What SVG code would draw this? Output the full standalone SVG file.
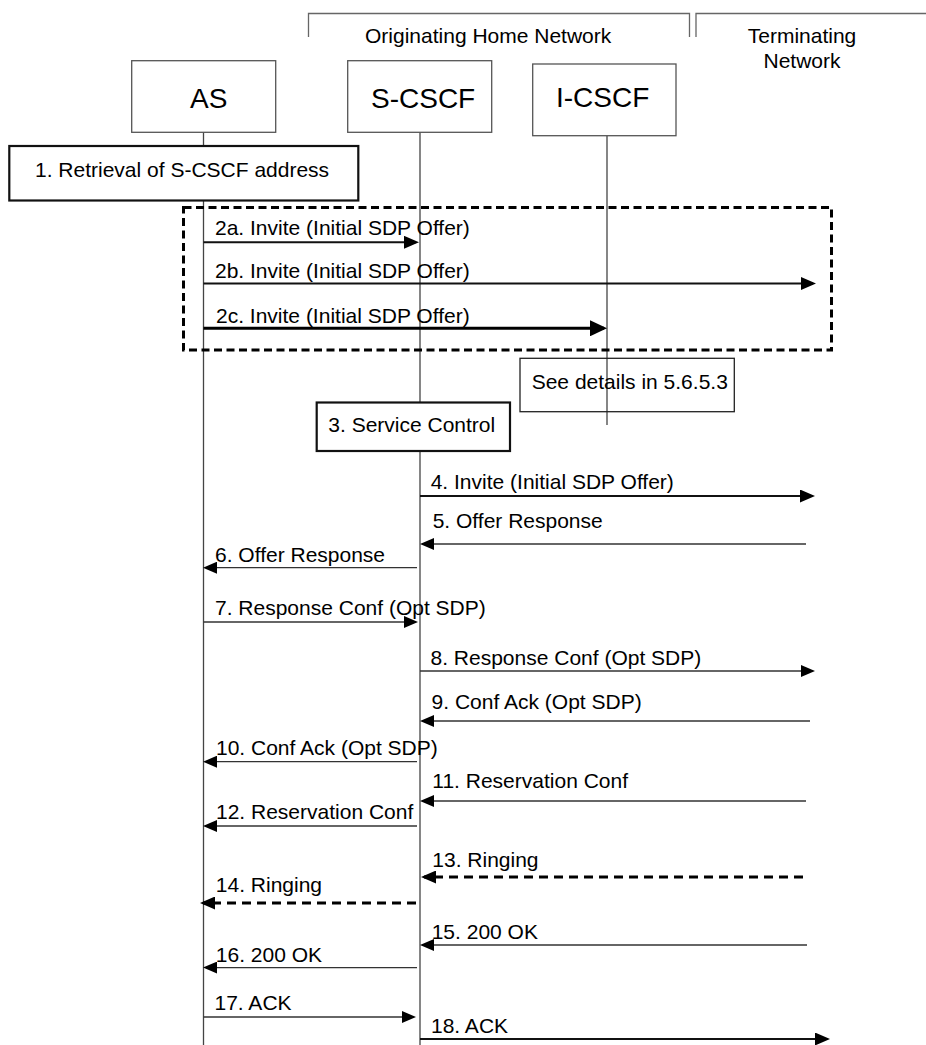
<svg xmlns="http://www.w3.org/2000/svg" width="926" height="1045" viewBox="0 0 926 1045">
<style>
text{font-family:"Liberation Sans",Arial,sans-serif;font-size:21px;fill:#000}
.node{font-size:28px}
.box{fill:#fff;stroke:#555;stroke-width:1.3}
.tbox{fill:#fff;stroke:#111;stroke-width:2.2}
.life{stroke:#444;stroke-width:1.3;fill:none}
.br{stroke:#666;stroke-width:1.3;fill:none}
.m{stroke:#333;stroke-width:1.3;fill:none}
.m2{stroke:#111;stroke-width:2;fill:none}
.m3{stroke:#000;stroke-width:3;fill:none}
.d{stroke:#000;stroke-width:3;fill:none;stroke-dasharray:9 6}
</style>
<defs>
<marker id="a1" markerUnits="userSpaceOnUse" markerWidth="14" markerHeight="12" refX="11" refY="6" orient="auto"><path d="M0,0 L14,6 L0,12 z" fill="#000"/></marker>
<marker id="a2" markerUnits="userSpaceOnUse" markerWidth="15" markerHeight="13" refX="12" refY="6.5" orient="auto"><path d="M0,0 L15,6.5 L0,13 z" fill="#000"/></marker>
<marker id="a3" markerUnits="userSpaceOnUse" markerWidth="17" markerHeight="16" refX="14" refY="8" orient="auto"><path d="M0,0 L17,8 L0,16 z" fill="#000"/></marker>
</defs>

<g id="header">
<path class="br" d="M308.5,37 V13.5 H689.5 V37"/>
<path class="br" d="M696,37 V13.5 H926"/>
<text x="365" y="43">Originating Home Network</text>
<text x="802" y="43" text-anchor="middle">Terminating</text>
<text x="802" y="68" text-anchor="middle">Network</text>
</g>

<g id="lifelines">
<path class="life" d="M203.5,132 V146 M203.5,200 V1045"/>
<path class="life" d="M420,132 V1045"/>
<path class="life" d="M607,136 V425"/>
</g>

<g id="node-AS">
<rect class="box" x="131.7" y="60.7" width="144" height="71.6"/>
<text class="node" x="190" y="108">AS</text>
</g>
<g id="node-SCSCF">
<rect class="box" x="347.7" y="60.7" width="144" height="71.6"/>
<text class="node" x="371" y="108">S-CSCF</text>
</g>
<g id="node-ICSCF">
<rect class="box" x="532.7" y="64" width="143.3" height="71.7"/>
<text class="node" x="556" y="107">I-CSCF</text>
</g>

<g id="step1">
<rect class="tbox" x="9.3" y="146" width="349" height="54.5"/>
<text x="35" y="176.5">1. Retrieval of S-CSCF address</text>
</g>

<g id="group2">
<rect x="183.5" y="207.5" width="648" height="142.5" fill="none" stroke="#000" stroke-width="3" stroke-dasharray="8 4.5"/>
</g>

<g id="step3">
<rect class="tbox" x="316.7" y="402.5" width="193.3" height="48.5"/>
<text x="328.3" y="431.7">3. Service Control</text>
</g>

<g id="note">
<rect x="520" y="358.3" width="214.3" height="53.4" fill="none" stroke="#222" stroke-width="1.3"/>
<text x="531.7" y="389.3">See details in 5.6.5.3</text>
</g>

<g id="labels">
<text x="215" y="235">2a. Invite (Initial SDP Offer)</text>
<text x="215" y="278.3">2b. Invite (Initial SDP Offer)</text>
<text x="216" y="323.3">2c. Invite (Initial SDP Offer)</text>
<text x="430.7" y="489.3">4. Invite (Initial SDP Offer)</text>
<text x="432.7" y="528.3">5. Offer Response</text>
<text x="215" y="561.7">6. Offer Response</text>
<text x="215" y="615">7. Response Conf (Opt SDP)</text>
<text x="430.5" y="664.7">8. Response Conf (Opt SDP)</text>
<text x="431.6" y="709">9. Conf Ack (Opt SDP)</text>
<text x="216" y="755">10. Conf Ack (Opt SDP)</text>
<text x="432.3" y="788.3">11. Reservation Conf</text>
<text x="216" y="819.3">12. Reservation Conf</text>
<text x="432.3" y="866.7">13. Ringing</text>
<text x="215.8" y="892">14. Ringing</text>
<text x="431.7" y="938.5">15. 200 OK</text>
<text x="215.8" y="962">16. 200 OK</text>
<text x="214.5" y="1010">17. ACK</text>
<text x="431" y="1033">18. ACK</text>
</g>

<g id="connectors">
<line class="m2" x1="203.5" y1="242.3" x2="416" y2="242.3" marker-end="url(#a2)"/>
<line class="m2" x1="203.5" y1="283.5" x2="813" y2="283.5" marker-end="url(#a2)"/>
<line class="m3" x1="203.5" y1="328.3" x2="604" y2="328.3" marker-end="url(#a3)"/>
<line class="m2" x1="420" y1="496" x2="812" y2="496" marker-end="url(#a2)"/>
<line class="m" x1="806" y1="544" x2="423" y2="544" marker-end="url(#a1)"/>
<line class="m" x1="417" y1="567.7" x2="206" y2="567.7" marker-end="url(#a1)"/>
<line class="m" x1="203.5" y1="622" x2="415" y2="622" marker-end="url(#a1)"/>
<line class="m" x1="420" y1="671" x2="812" y2="671" marker-end="url(#a1)"/>
<line class="m" x1="810" y1="721" x2="423" y2="721" marker-end="url(#a1)"/>
<line class="m" x1="417" y1="761.7" x2="206" y2="761.7" marker-end="url(#a1)"/>
<line class="m" x1="806" y1="801" x2="423" y2="801" marker-end="url(#a1)"/>
<line class="m" x1="417" y1="826" x2="206" y2="826" marker-end="url(#a1)"/>
<line class="d" x1="803" y1="877" x2="424" y2="877" marker-end="url(#a2)"/>
<line class="d" x1="416" y1="903" x2="203" y2="903" marker-end="url(#a2)"/>
<line class="m" x1="807" y1="945" x2="423" y2="945" marker-end="url(#a1)"/>
<line class="m" x1="417" y1="967.6" x2="206" y2="967.6" marker-end="url(#a1)"/>
<line class="m" x1="203.5" y1="1017" x2="413" y2="1017" marker-end="url(#a1)"/>
<line class="m2" x1="420" y1="1039" x2="827" y2="1039" marker-end="url(#a2)"/>
</g>
</svg>
